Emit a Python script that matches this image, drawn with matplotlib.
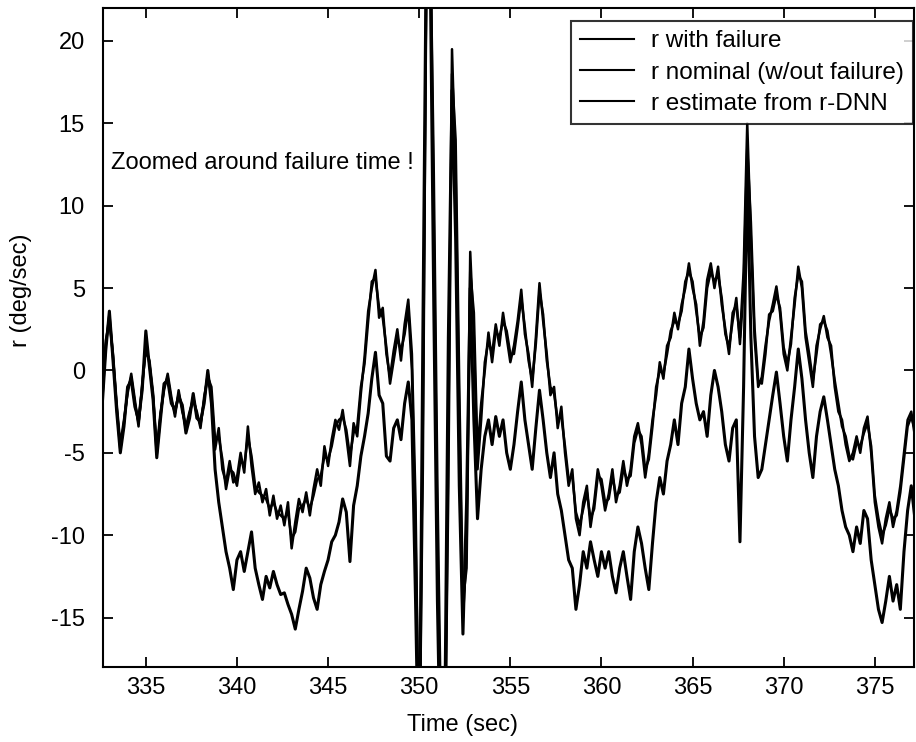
import numpy as np
import matplotlib
matplotlib.use("Agg")
import matplotlib.pyplot as plt

plt.rcParams['font.family'] = ['Liberation Sans', 'DejaVu Sans']
plt.rcParams['axes.unicode_minus'] = False

# Sampling grid (s): 0.2 s steps from 332.6 s
t_start, t_step, n_samples = 332.6, 0.2, 225
time = np.round(t_start + t_step * np.arange(n_samples), 2)

# Yaw rate with the actuator failure (deg/s)
r_failure = [
    -2.0, 1.5, 3.4, 0.8, -2.2,
    -4.8, -3.2, -1.2, -0.4, -2.0,
    -3.2, -1.0, 1.5, 0.4, -1.6,
    -5.1, -2.8, -1.0, -0.4, -1.8,
    -2.6, -1.4, -2.3, -3.6, -2.7,
    -1.6, -2.7, -3.3, -1.8, -0.2,
    -1.5, -4.8, -3.5, -6.0, -6.8,
    -5.5, -6.8, -6.5, -5.0, -6.2,
    -3.4, -5.8, -7.5, -6.8, -8.0,
    -7.2, -8.8, -7.6, -9.0, -8.2,
    -9.4, -8.0, -10.8, -9.2, -7.8,
    -8.6, -7.4, -8.8, -7.2, -6.0,
    -7.0, -4.6, -5.8, -4.2, -3.0,
    -3.6, -2.4, -4.0, -5.8, -3.2,
    -4.0, -1.4, 0.8, 3.6, 5.0,
    6.1, 3.2, 3.8, 1.0, -0.4,
    1.2, 2.5, 0.6, 2.8, 4.3,
    1.0, -8.0, -25.0, -6.0, 26.0,
    28.0, 9.0, -10.0, -24.0, -26.0,
    -4.0, 19.5, 12.0, -3.0, -15.0,
    -11.0, 7.2, 2.0, -6.0, -3.0,
    0.5, 1.8, 1.0, 2.8, 1.5,
    3.5, 2.0, 0.5, 1.5, 3.0,
    4.9, 2.2, 1.0, -1.0, 2.0,
    5.3, 3.0, 1.0, -1.5, -1.0,
    -3.5, -2.2, -5.0, -7.0, -6.0,
    -9.0, -10.0, -8.0, -7.0, -9.5,
    -8.0, -6.0, -7.0, -8.5, -7.5,
    -6.0, -8.0, -7.0, -5.5, -7.0,
    -6.0, -4.0, -3.2, -4.5, -6.5,
    -5.0, -3.0, -1.5, 0.5, -0.5,
    1.5, 2.0, 3.5, 2.5, 4.0,
    5.0, 6.5, 5.0, 4.0, 1.5,
    3.0, 5.5, 6.5, 5.0, 6.3,
    4.0, 2.5, 1.0, 3.5, 4.0,
    2.0, 6.0, 15.0, 8.0, 2.0,
    -1.0, -0.4, 1.5, 3.0, 4.0,
    5.1, 3.5, 1.0, 0.0, 2.0,
    4.0, 6.3, 5.0, 2.0, 0.5,
    -1.0, 1.5, 2.5, 3.3, 2.0,
    1.5, -1.0, -2.5, -3.0, -4.5,
    -5.5, -5.0, -4.0, -5.0, -3.5,
    -2.8, -5.0, -8.0, -9.5, -10.5,
    -9.0, -8.0, -9.5, -8.5, -7.0,
    -5.0, -3.0, -2.5, -4.0, -4.5,
]

# Nominal yaw rate without failure (deg/s)
r_nominal = [
    -2.2, 1.2, 3.6, 0.6, -2.5,
    -5.0, -3.4, -1.0, -0.6, -2.2,
    -3.0, -1.2, 2.4, 0.2, -1.8,
    -5.3, -3.0, -0.8, -0.6, -2.0,
    -2.4, -1.6, -2.1, -3.8, -2.9,
    -1.4, -2.9, -3.1, -2.0, 0.0,
    -2.0, -6.0, -8.0, -9.5, -11.0,
    -12.0, -13.3, -11.5, -11.0, -12.2,
    -11.0, -9.8, -12.0, -13.0, -13.9,
    -12.5, -13.2, -12.2, -13.0, -13.6,
    -13.5, -14.2, -14.8, -15.7, -14.5,
    -13.4, -12.0, -12.6, -13.8, -14.5,
    -13.0, -12.2, -11.5, -10.4, -10.0,
    -9.2, -7.8, -8.6, -11.6, -8.2,
    -7.0, -5.2, -4.0, -2.6, -0.5,
    1.1, -1.5, -2.0, -5.2, -5.5,
    -3.5, -3.0, -4.2, -2.0, -0.7,
    -3.0, -14.0, -26.0, 2.0, 27.0,
    25.0, 4.0, -14.0, -26.0, -22.0,
    2.0, 17.0, 8.0, -7.0, -16.0,
    -8.0, 5.0, -3.0, -9.0, -6.0,
    -4.0, -3.0, -4.5, -2.8, -4.0,
    -3.0, -5.0, -6.0, -4.5, -2.5,
    -0.7, -3.0, -4.5, -6.0, -3.5,
    -1.2, -3.0, -5.0, -6.5, -5.0,
    -7.5, -8.5, -10.0, -11.5, -12.0,
    -14.5, -13.0, -11.0, -12.0, -10.4,
    -11.5, -12.5, -11.0, -12.0, -11.0,
    -12.5, -13.5, -12.0, -11.0, -12.5,
    -13.9, -11.0, -9.5, -10.5, -12.0,
    -13.3, -10.5, -8.0, -6.5, -7.5,
    -5.5, -4.5, -3.0, -4.5, -2.0,
    -1.0, 1.3, -0.5, -2.0, -3.0,
    -2.5, -4.0, -1.5, 0.0, -1.0,
    -2.5, -4.5, -5.5, -3.5, -3.0,
    -10.4, -1.0, 12.0, 2.0, -4.0,
    -6.5, -6.0, -4.5, -3.0, -1.5,
    -0.1, -2.0, -4.0, -5.5, -3.0,
    -1.0, 1.3, -0.5, -3.0, -5.0,
    -6.5, -4.0, -2.5, -1.6, -3.0,
    -4.5, -6.0, -7.0, -8.5, -9.5,
    -10.0, -11.0, -9.5, -10.5, -8.5,
    -9.0, -11.5, -13.0, -14.5, -15.3,
    -14.0, -12.5, -14.0, -13.0, -14.5,
    -11.0, -8.5, -7.0, -9.0, -8.0,
]

# Yaw rate estimated by the r-DNN (deg/s)
r_estimate = [
    -1.8, 1.8, 3.0, 1.0, -2.0,
    -4.5, -3.0, -1.4, -0.2, -1.8,
    -3.4, -0.8, 1.2, 0.6, -1.4,
    -4.8, -2.6, -1.2, -0.2, -1.6,
    -2.8, -1.2, -2.5, -3.4, -2.5,
    -1.8, -2.5, -3.5, -1.6, -0.4,
    -1.0, -4.2, -4.0, -5.4, -7.2,
    -6.0, -6.2, -7.0, -5.4, -5.8,
    -4.0, -5.2, -7.0, -7.4, -7.6,
    -7.8, -8.4, -8.0, -8.6, -8.8,
    -9.0, -8.6, -10.2, -9.8, -8.4,
    -8.2, -7.8, -8.4, -7.6, -6.6,
    -6.4, -5.2, -5.4, -4.6, -3.4,
    -3.0, -2.8, -3.6, -5.2, -3.8,
    -3.4, -1.0, 0.4, 3.0, 5.4,
    5.6, 3.8, 3.2, 1.4, -0.8,
    0.6, 2.0, 1.2, 2.2, 3.8,
    0.0, -10.0, -23.0, -3.0, 24.0,
    27.0, 12.0, -7.0, -22.0, -25.0,
    -7.0, 18.0, 14.0, -1.0, -14.0,
    -12.0, 6.0, 3.5, -5.0, -2.0,
    0.0, 2.3, 0.5, 2.4, 2.0,
    3.0, 2.4, 1.0, 1.0, 2.6,
    4.4, 2.6, 0.6, -0.6, 1.6,
    4.8, 3.4, 0.6, -1.0, -1.4,
    -3.0, -2.8, -4.6, -6.6, -6.4,
    -8.6, -9.4, -8.4, -7.4, -9.0,
    -8.4, -6.4, -6.6, -8.0, -7.8,
    -6.4, -7.6, -7.4, -6.0, -6.6,
    -6.4, -4.4, -3.6, -4.0, -6.0,
    -5.4, -3.4, -1.0, 0.0, -0.2,
    1.0, 2.4, 3.0, 2.8, 3.6,
    5.4, 6.0, 5.4, 3.6, 2.0,
    2.6, 5.0, 6.0, 5.4, 5.8,
    4.4, 2.2, 1.4, 3.0, 4.4,
    1.6, 5.0, 13.5, 9.0, 2.6,
    -0.6, -0.8, 1.0, 3.4, 3.6,
    4.6, 3.8, 1.4, 0.4, 1.6,
    4.4, 5.8, 5.4, 2.4, 1.0,
    -0.6, 1.0, 2.8, 3.0, 2.4,
    1.0, -0.6, -2.0, -3.4, -4.0,
    -5.2, -5.4, -4.4, -4.6, -3.8,
    -3.2, -4.6, -7.6, -9.0, -10.0,
    -9.4, -8.4, -9.0, -8.8, -7.4,
    -5.4, -3.4, -2.8, -3.6, -4.8,
]

series_labels = ["r with failure", "r nominal (w/out failure)", "r estimate from r-DNN"]
x_ticks = [335, 340, 345, 350, 355, 360, 365, 370, 375]
y_ticks = [-15, -10, -5, 0, 5, 10, 15, 20]

FS = 17
FS_LEG = 17.5

fig = plt.figure(figsize=(9.16, 7.42), dpi=100)
ax = fig.add_axes([103 / 916, 75 / 742, 811 / 916, 659 / 742])

ax.plot(time, r_failure, color="black", lw=1.8, label=series_labels[0])
ax.plot(time, r_nominal, color="black", lw=2.2, label=series_labels[1])
ax.plot(time, r_estimate, color="black", lw=1.8, label=series_labels[2])

ax.set_xlim(332.65, 377.15)
ax.set_ylim(-18, 22)
ax.set_xticks(x_ticks)
ax.set_yticks(y_ticks)
ax.tick_params(direction="in", length=7, width=1.3, labelsize=FS,
               top=True, right=True)
ax.tick_params(axis="y", pad=13)
ax.tick_params(axis="x", pad=7)
for sp in ax.spines.values():
    sp.set_linewidth(1.5)

ax.set_xlabel("Time (sec)", fontsize=FS)
ax.set_ylabel("r (deg/sec)", fontsize=FS)
ax.xaxis.set_label_coords(0.443, -0.072)
ax.yaxis.set_label_coords(-0.088, 0.572)

ax.text(333.1, 12.6, "Zoomed around failure time !", fontsize=FS,
        ha="left", va="center")

leg = ax.legend(loc="upper right", bbox_to_anchor=(0.9988, 0.980),
                borderaxespad=0, fontsize=FS_LEG, frameon=True, fancybox=False,
                handlelength=2.2, handletextpad=0.7, labelspacing=0.38,
                borderpad=0.38)
leg.get_frame().set_edgecolor("black")
leg.get_frame().set_linewidth(1.5)
for h in leg.get_lines():
    h.set_linewidth(1.5)

fig.savefig("out.png", dpi=100, facecolor="white")
